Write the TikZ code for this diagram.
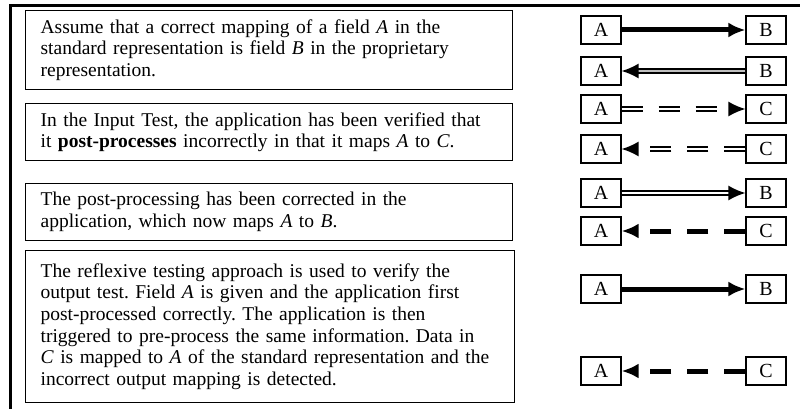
\documentclass[tikz,border=0pt]{standalone}
\usepackage{fontspec}
\setmainfont{Liberation Serif}
\usetikzlibrary{arrows.meta}
\frenchspacing

\tikzset{
  txtbox/.style={draw, line width=1.2pt, anchor=north west, align=left, text width=457pt, inner xsep=15pt, inner ysep=2pt, font=\fontsize{19.5}{21.7}\selectfont},
  fld/.style={draw, line width=1.2pt, minimum width=40pt, minimum height=28pt, inner sep=0pt, font=\fontsize{20}{21.7}\selectfont},
  fat/.style={line width=5pt, -{Latex[length=17pt,width=15pt]}},
  twin/.style={double, line width=1.6pt, double distance=2.5pt, -{Latex[length=17pt,width=15pt]}},
  gaps/.style={dash pattern=on 21pt off 16pt},
}

\begin{document}
\begin{tikzpicture}[x=1pt,y=-1pt]
      \useasboundingbox (0,0) rectangle (800,409);
      \draw[line width=3pt] (10,409) -- (10,5.5) -- (800,5.5);

      % left column
      \node[txtbox, minimum height=79pt] (t1) at (25,10) {Assume that a correct mapping of a field \textit{A} in the\\ standard representation is field \textit{B} in the proprietary\\ representation.};
      \node[txtbox, minimum height=57pt] (t2) at (25,103) {In the Input Test, the application has been verified that\\ it \textbf{post-processes} incorrectly in that it maps \textit{A} to \textit{C}.};
      \node[txtbox, minimum height=57pt] (t3) at (25,183) {The post-processing has been corrected in the\\ application, which now maps \textit{A} to \textit{B}.};
      \node[txtbox, text width=459pt, minimum height=152pt] (t4) at (25,250) {The reflexive testing approach is used to verify the\\ output test. Field \textit{A} is given and the application first\\ post-processed correctly. The application is then\\ triggered to pre-process the same information. Data in\\ \textit{C} is mapped to \textit{A} of the standard representation and the\\ incorrect output mapping is detected.};

      % right column
      \node[fld] (a1) at (601,30) {A};
      \node[fld] (b1) at (766,30) {B};
      \node[fld] (a2) at (601,71) {A};
      \node[fld] (b2) at (766,71) {B};
      \node[fld] (a3) at (601,109) {A};
      \node[fld] (c3) at (766,109) {C};
      \node[fld] (a4) at (601,149) {A};
      \node[fld] (c4) at (766,149) {C};
      \node[fld] (a5) at (601,193) {A};
      \node[fld] (b5) at (766,193) {B};
      \node[fld] (a6) at (601,231) {A};
      \node[fld] (c6) at (766,231) {C};
      \node[fld] (a7) at (601,289) {A};
      \node[fld] (b7) at (766,289) {B};
      \node[fld] (a8) at (601,371) {A};
      \node[fld] (c8) at (766,371) {C};

      \draw[fat] (a1) -- (b1);
      \draw[twin, double=gray!50] (b2) -- (a2);
      \draw[twin, gaps] (a3) -- (c3);
      \draw[twin, gaps] (c4) -- (a4);
      \draw[twin] (a5) -- (b5);
      \draw[fat, gaps] (c6) -- (a6);
      \draw[fat] (a7) -- (b7);
      \draw[fat, gaps] (c8) -- (a8);
\end{tikzpicture}
\end{document}
